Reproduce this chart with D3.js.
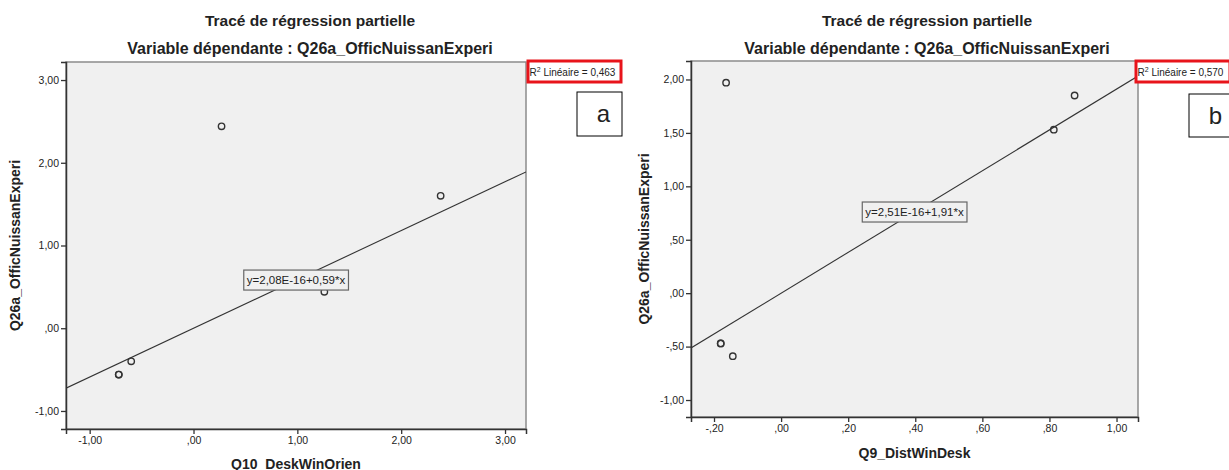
<!DOCTYPE html>
<html>
<head>
<meta charset="utf-8">
<script src="https://cdn.jsdelivr.net/npm/d3@7"></script>
<style>
  html, body { margin: 0; padding: 0; background: #fff; }
  svg { display: block; }
  text { font-family: "Liberation Sans", Arial, sans-serif; fill: #222; }
</style>
</head>
<body>
<svg id="chart" width="1229" height="470"></svg>
<script>
// ---------------- DATA ----------------
const chartTitle = "Tracé de régression partielle";
const chartSubtitle = "Variable dépendante : Q26a_OfficNuissanExperi";
const yAxisTitle = "Q26a_OfficNuissanExperi";

// Panel a
const aXLabel = "Q10_DeskWinOrien";
const aX = [0.27, 2.38, 1.26, -0.60, -0.72, -0.72];
const aY = [2.44, 1.60, 0.44, -0.40, -0.56, -0.56];
const aIntercept = 2.08e-16, aSlope = 0.59;
const aEquation = "y=2,08E-16+0,59*x";
const aR2 = "0,463";
const aXTicks = [-1, 0, 1, 2, 3];
const aXTickLabels = ["-1,00", ",00", "1,00", "2,00", "3,00"];
const aYTicks = [-1, 0, 1, 2, 3];
const aYTickLabels = ["-1,00", ",00", "1,00", "2,00", "3,00"];
const aTag = "a";

// Panel b
const bXLabel = "Q9_DistWinDesk";
const bX = [-0.164, 0.875, 0.813, -0.18, -0.18, -0.144];
const bY = [1.97, 1.85, 1.53, -0.47, -0.47, -0.59];
const bIntercept = 2.51e-16, bSlope = 1.91;
const bEquation = "y=2,51E-16+1,91*x";
const bR2 = "0,570";
const bXTicks = [-0.2, 0, 0.2, 0.4, 0.6, 0.8, 1.0];
const bXTickLabels = ["-,20", ",00", ",20", ",40", ",60", ",80", "1,00"];
const bYTicks = [-1, -0.5, 0, 0.5, 1, 1.5, 2];
const bYTickLabels = ["-1,00", "-,50", ",00", ",50", "1,00", "1,50", "2,00"];
const bTag = "b";

// ---------------- LAYOUT ----------------
const panels = [
  { x: aX, y: aY, b0: aIntercept, b1: aSlope, eq: aEquation, r2: aR2,
    xt: aXTicks, xtl: aXTickLabels, yt: aYTicks, ytl: aYTickLabels,
    xlab: aXLabel, tag: aTag,
    box: { x0: 66, x1: 526, y0: 62, y1: 429 },
    xDom: [-1.228, 3.202], yDom: [-1.218, 3.218],
    titleX: 310, yTitleX: 15, xTitleY: 469,
    r2Box: { x: 528, y: 61, w: 93, h: 21 },
    tagBox: { x: 577, y: 92, w: 45, h: 44 } },
  { x: bX, y: bY, b0: bIntercept, b1: bSlope, eq: bEquation, r2: bR2,
    xt: bXTicks, xtl: bXTickLabels, yt: bYTicks, ytl: bYTickLabels,
    xlab: bXLabel, tag: bTag,
    box: { x0: 691, x1: 1138, y0: 61, y1: 417 },
    xDom: [-0.2686, 1.064], yDom: [-1.159, 2.173],
    titleX: 927, yTitleX: 644, xTitleY: 458,
    r2Box: { x: 1136, y: 61, w: 94, h: 21 },
    tagBox: { x: 1189, y: 94, w: 45, h: 43 } }
];

const svg = d3.select("#chart");

panels.forEach((p, i) => {
  const g = svg.append("g");
  const b = p.box;
  const xs = d3.scaleLinear().domain(p.xDom).range([b.x0, b.x1]);
  const ys = d3.scaleLinear().domain(p.yDom).range([b.y1, b.y0]);

  // titles
  g.append("text").attr("x", p.titleX).attr("y", 26)
    .attr("text-anchor", "middle").attr("font-size", 15.5).attr("font-weight", "bold")
    .text(chartTitle);
  g.append("text").attr("x", p.titleX).attr("y", 54)
    .attr("text-anchor", "middle").attr("font-size", 16).attr("font-weight", "bold")
    .text(chartSubtitle);

  // plot background
  g.append("rect").attr("x", b.x0).attr("y", b.y0)
    .attr("width", b.x1 - b.x0).attr("height", b.y1 - b.y0)
    .attr("fill", "#f0f0f0").attr("stroke", "#8c8c8c").attr("stroke-width", 1.5);

  // axes
  const xAxis = d3.axisBottom(xs).tickValues(p.xt)
    .tickFormat((d, k) => p.xtl[k]).tickSizeOuter(0).tickSize(5).tickPadding(3);
  const yAxis = d3.axisLeft(ys).tickValues(p.yt)
    .tickFormat((d, k) => p.ytl[k]).tickSizeOuter(0).tickSize(5).tickPadding(2);

  const gx = g.append("g").attr("transform", `translate(0,${b.y1})`).call(xAxis);
  const gy = g.append("g").attr("transform", `translate(${b.x0},0)`).call(yAxis);
  [gx, gy].forEach(ax => {
    ax.select(".domain").attr("stroke", "#333").attr("stroke-width", 1.5);
    ax.selectAll(".tick line").attr("stroke", "#333").attr("stroke-width", 1.3);
    ax.selectAll(".tick text").attr("font-size", 10.5).attr("fill", "#333")
      .attr("font-family", "Liberation Sans, Arial, sans-serif");
  });

  // axis titles
  g.append("text").attr("x", (b.x0 + b.x1) / 2).attr("y", p.xTitleY)
    .attr("text-anchor", "middle").attr("font-size", 14).attr("font-weight", "bold")
    .text(p.xlab);
  g.append("text")
    .attr("transform", `translate(${p.yTitleX + 5},${(b.y0 + b.y1) / 2}) rotate(-90)`)
    .attr("text-anchor", "middle").attr("font-size", 14).attr("font-weight", "bold")
    .text(yAxisTitle);

  // clip
  const cid = "clip" + i;
  svg.append("clipPath").attr("id", cid).append("rect")
    .attr("x", b.x0).attr("y", b.y0).attr("width", b.x1 - b.x0).attr("height", b.y1 - b.y0);

  // regression line
  const lineData = p.xDom.map(xv => [xv, p.b0 + p.b1 * xv]);
  g.append("path").datum(lineData)
    .attr("clip-path", `url(#${cid})`)
    .attr("d", d3.line().x(d => xs(d[0])).y(d => ys(d[1])))
    .attr("fill", "none").attr("stroke", "#333").attr("stroke-width", 1.1);

  // points
  g.append("g").selectAll("circle").data(p.x.map((v, k) => [v, p.y[k]]))
    .join("circle")
    .attr("cx", d => xs(d[0])).attr("cy", d => ys(d[1])).attr("r", 3.2)
    .attr("fill", "none").attr("stroke", "#333").attr("stroke-width", 1.4);

  // equation label at middle of the line
  const mx = (p.xDom[0] + p.xDom[1]) / 2;
  const my = p.b0 + p.b1 * mx;
  const eg = g.append("g").attr("transform", `translate(${xs(mx)},${ys(my)})`);
  const eRect = eg.append("rect");
  const eText = eg.append("text").attr("text-anchor", "middle").attr("dy", "0.36em")
    .attr("font-size", 11.5).attr("fill", "#333").text(p.eq);
  const bb = eText.node().getBBox();
  eRect.attr("x", bb.x - 3).attr("y", -10).attr("width", bb.width + 6).attr("height", 20)
    .attr("fill", "#f0f0f0").attr("stroke", "#666").attr("stroke-width", 1.2);

  // R² box
  const rb = p.r2Box;
  g.append("rect").attr("x", rb.x).attr("y", rb.y).attr("width", rb.w).attr("height", rb.h)
    .attr("fill", "#fff").attr("stroke", "#e8141b").attr("stroke-width", 3);
  const rt = g.append("text").attr("x", rb.x + 1.5).attr("y", rb.y + 14.5)
    .attr("font-size", 10).attr("fill", "#222");
  rt.append("tspan").text("R");
  rt.append("tspan").attr("font-size", 7).attr("dy", -4).text("2");
  rt.append("tspan").attr("dy", 4).text(" Linéaire = " + p.r2);

  // panel tag box
  const tb = p.tagBox;
  g.append("rect").attr("x", tb.x).attr("y", tb.y).attr("width", tb.w).attr("height", tb.h)
    .attr("fill", "#fff").attr("stroke", "#000").attr("stroke-width", 1);
  g.append("text").attr("x", tb.x + tb.w / 2 + 4).attr("y", tb.y + tb.h / 2 + 8)
    .attr("text-anchor", "middle").attr("font-size", 24)
    .attr("font-family", "Open Sans, Liberation Sans, sans-serif").attr("fill", "#000")
    .text(p.tag);
});
</script>
</body>
</html>
